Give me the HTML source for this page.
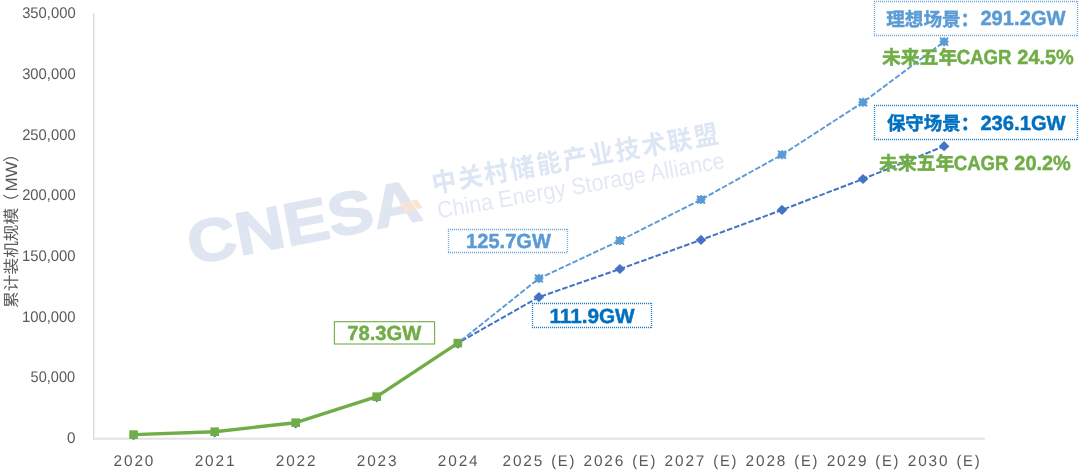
<!DOCTYPE html>
<html lang="zh"><head><meta charset="utf-8"><title>CNESA</title>
<style>
html,body{margin:0;padding:0;background:#fff;}
body{width:1080px;height:474px;overflow:hidden;}
svg{display:block;}
text{font-family:"Liberation Sans","Noto Sans CJK SC",sans-serif;text-rendering:geometricPrecision;}
</style></head><body>
<svg width="1080" height="474" viewBox="0 0 1080 474">
<rect width="1080" height="474" fill="#fff"/>

<g transform="translate(194.5 264.3) rotate(-11) scale(1.127 1)">
<text x="-2.48" y="0" font-size="60" font-weight="bold" fill="#dfe6f2" stroke="#dfe6f2" stroke-width="1.6" stroke-linejoin="round">CNESA</text>
</g>
<g transform="translate(435.4 192.7) rotate(-10) scale(1 1.06)">
<text x="-2" y="0" font-size="24.5" font-weight="bold" fill="#dde6f4" letter-spacing="2.12">中关村储能产业技术联盟</text>
</g>
<g transform="translate(439.7 218.4) rotate(-10) scale(0.954 1.04)">
<text x="-1" y="0" font-size="22.5" fill="#e2e9f5">China Energy Storage Alliance</text>
</g>
<g fill="#fbe4cf">
<path d="M399.3 203.0L404.4 201.9L410.2 210.7L405.2 211.8Z"/>
<path d="M405.5 201.7L410.6 200.7L416.4 209.4L411.3 210.5Z"/>
<path d="M411.7 200.5L416.8 199.5L422.6 208.1L417.5 209.2Z"/>
</g>

<rect x="93.05" y="13.1" width="1.4" height="426.6" fill="#dcdcdc"/>
<rect x="93.1" y="437.7" width="891.8" height="2.0" fill="#e2e2e2"/>
<text transform="translate(17.00 308.01) rotate(-90) scale(1.0325 1)" style="font-size:16.2px" fill="#595959">累计装机规模</text>
<text transform="translate(17.00 210.00) rotate(-90)" style="font-size:16.2px" fill="#595959">（</text>
<text transform="translate(17.00 191.53) rotate(-90) scale(1.0346 1)" style="font-size:16.4px" fill="#595959">MW</text>
<text transform="translate(17.00 161.95) rotate(-90)" style="font-size:16.2px" fill="#595959">）</text>
<polyline points="457.8,343.1 538.9,297.1 619.9,269.0 701.0,239.9 782.0,209.9 863.0,179.0 944.1,146.2" fill="none" stroke="#4472c4" stroke-width="2" stroke-dasharray="5.6 2" stroke-dashoffset="3.6"/>
<path d="M538.9 292.0l5.3 5.1l-5.3 5.1l-5.3 -5.1z" fill="#4472c4"/>
<path d="M619.9 263.9l5.3 5.1l-5.3 5.1l-5.3 -5.1z" fill="#4472c4"/>
<path d="M701.0 234.8l5.3 5.1l-5.3 5.1l-5.3 -5.1z" fill="#4472c4"/>
<path d="M782.0 204.8l5.3 5.1l-5.3 5.1l-5.3 -5.1z" fill="#4472c4"/>
<path d="M863.0 173.9l5.3 5.1l-5.3 5.1l-5.3 -5.1z" fill="#4472c4"/>
<path d="M944.1 141.1l5.3 5.1l-5.3 5.1l-5.3 -5.1z" fill="#4472c4"/>
<polyline points="457.8,343.1 538.9,278.5 619.9,240.6 701.0,199.6 782.0,154.7 863.0,102.3 944.1,41.7" fill="none" stroke="#5b9bd5" stroke-width="1.9" stroke-dasharray="5.6 2" stroke-dashoffset="3.6"/>
<g transform="translate(538.9 278.5)" stroke="#5b9bd5" stroke-width="1.7"><rect x="-3.6" y="-3.6" width="7.2" height="7.2" fill="#5b9bd5" stroke="none"/><path d="M-4 -4L4 4M-4 4L4 -4M0 -4.5V4.5M-4.5 0H4.5"/></g>
<g transform="translate(619.9 240.6)" stroke="#5b9bd5" stroke-width="1.7"><rect x="-3.6" y="-3.6" width="7.2" height="7.2" fill="#5b9bd5" stroke="none"/><path d="M-4 -4L4 4M-4 4L4 -4M0 -4.5V4.5M-4.5 0H4.5"/></g>
<g transform="translate(701.0 199.6)" stroke="#5b9bd5" stroke-width="1.7"><rect x="-3.6" y="-3.6" width="7.2" height="7.2" fill="#5b9bd5" stroke="none"/><path d="M-4 -4L4 4M-4 4L4 -4M0 -4.5V4.5M-4.5 0H4.5"/></g>
<g transform="translate(782.0 154.7)" stroke="#5b9bd5" stroke-width="1.7"><rect x="-3.6" y="-3.6" width="7.2" height="7.2" fill="#5b9bd5" stroke="none"/><path d="M-4 -4L4 4M-4 4L4 -4M0 -4.5V4.5M-4.5 0H4.5"/></g>
<g transform="translate(863.0 102.3)" stroke="#5b9bd5" stroke-width="1.7"><rect x="-3.6" y="-3.6" width="7.2" height="7.2" fill="#5b9bd5" stroke="none"/><path d="M-4 -4L4 4M-4 4L4 -4M0 -4.5V4.5M-4.5 0H4.5"/></g>
<g transform="translate(944.1 41.7)" stroke="#5b9bd5" stroke-width="1.7"><rect x="-3.6" y="-3.6" width="7.2" height="7.2" fill="#5b9bd5" stroke="none"/><path d="M-4 -4L4 4M-4 4L4 -4M0 -4.5V4.5M-4.5 0H4.5"/></g>
<path d="M133.6 431.3l4.5 4.5l-4.5 4.5l-4.5 -4.5z" fill="#4472c4"/>
<path d="M214.7 428.4l4.5 4.5l-4.5 4.5l-4.5 -4.5z" fill="#4472c4"/>
<path d="M295.7 419.4l4.5 4.5l-4.5 4.5l-4.5 -4.5z" fill="#4472c4"/>
<path d="M376.8 393.4l4.5 4.5l-4.5 4.5l-4.5 -4.5z" fill="#4472c4"/>
<path d="M457.8 339.8l4.5 4.5l-4.5 4.5l-4.5 -4.5z" fill="#4472c4"/>
<polyline points="133.6,434.6 214.7,431.7 295.7,422.7 376.8,396.7 457.8,343.1" fill="none" stroke="#70ad47" stroke-width="3.4" stroke-linejoin="round"/>
<rect x="129.3" y="430.3" width="8.6" height="8.6" fill="#70ad47"/>
<rect x="210.4" y="427.4" width="8.6" height="8.6" fill="#70ad47"/>
<rect x="291.4" y="418.4" width="8.6" height="8.6" fill="#70ad47"/>
<rect x="372.4" y="392.4" width="8.6" height="8.6" fill="#70ad47"/>
<rect x="453.5" y="338.8" width="8.6" height="8.6" fill="#70ad47"/>
<rect x="334.4" y="321.7" width="100.2" height="22.3" fill="#fff" stroke="#70ad47" stroke-width="1.1"/>
<rect x="448.5" y="229.5" width="119.0" height="23.0" fill="#fff"/><path d="M448 229.5H568 M448 252.5H568 M448.5 229V253 M567.5 229V253" fill="none" stroke="#5b9bd5" stroke-width="1.3" stroke-opacity="0.88" stroke-dasharray="1.1 0.9"/>
<rect x="532.5" y="303.5" width="119.0" height="24.0" fill="#fff"/><path d="M532 303.5H652 M532 327.5H652 M532.5 303V328 M651.5 303V328" fill="none" stroke="#0070c0" stroke-width="1.3" stroke-opacity="0.88" stroke-dasharray="1.1 0.9"/>
<rect x="874.5" y="1.5" width="203.0" height="34.0" fill="#fff"/><path d="M874 1.5H1078 M874 35.5H1078 M874.5 1V36 M1077.5 1V36" fill="none" stroke="#5b9bd5" stroke-width="1.3" stroke-opacity="0.88" stroke-dasharray="1.1 0.9"/>
<rect x="874.5" y="105.5" width="203.0" height="34.0" fill="#fff"/><path d="M874 105.5H1078 M874 139.5H1078 M874.5 105V140 M1077.5 105V140" fill="none" stroke="#0070c0" stroke-width="1.3" stroke-opacity="0.88" stroke-dasharray="1.1 0.9"/>
<text transform="translate(67.08 442.90) scale(0.9902 1)" style="font-size:15.4px;" fill="#595959">0</text>
<text transform="translate(30.55 382.23) scale(0.9458 1)" style="font-size:15.4px;" fill="#595959">50,000</text>
<text transform="translate(21.94 321.56) scale(0.9648 1)" style="font-size:15.4px;" fill="#595959">100,000</text>
<text transform="translate(21.94 260.89) scale(0.9648 1)" style="font-size:15.4px;" fill="#595959">150,000</text>
<text transform="translate(22.15 200.22) scale(0.9609 1)" style="font-size:15.4px;" fill="#595959">200,000</text>
<text transform="translate(22.15 139.55) scale(0.9609 1)" style="font-size:15.4px;" fill="#595959">250,000</text>
<text transform="translate(22.15 78.88) scale(0.9609 1)" style="font-size:15.4px;" fill="#595959">300,000</text>
<text transform="translate(22.15 18.21) scale(0.9609 1)" style="font-size:15.4px;" fill="#595959">350,000</text>
<text x="113.62" y="466.10" style="font-size:15.4px;letter-spacing:1.85px;" fill="#595959">2020</text>
<text x="194.67" y="466.10" style="font-size:15.4px;letter-spacing:1.85px;" fill="#595959">2021</text>
<text x="275.72" y="466.10" style="font-size:15.4px;letter-spacing:1.85px;" fill="#595959">2022</text>
<text x="356.77" y="466.10" style="font-size:15.4px;letter-spacing:1.85px;" fill="#595959">2023</text>
<text x="437.82" y="466.10" style="font-size:15.4px;letter-spacing:1.85px;" fill="#595959">2024</text>
<text x="502.47" y="466.10" style="font-size:15.4px;letter-spacing:1.85px;" fill="#595959">2025</text>
<text transform="translate(551.15 466.10) scale(0.9552 1)" style="font-size:15.4px;letter-spacing:1.85px;" fill="#595959">(E)</text>
<text x="583.52" y="466.10" style="font-size:15.4px;letter-spacing:1.85px;" fill="#595959">2026</text>
<text transform="translate(632.20 466.10) scale(0.9552 1)" style="font-size:15.4px;letter-spacing:1.85px;" fill="#595959">(E)</text>
<text x="664.57" y="466.10" style="font-size:15.4px;letter-spacing:1.85px;" fill="#595959">2027</text>
<text transform="translate(713.25 466.10) scale(0.9552 1)" style="font-size:15.4px;letter-spacing:1.85px;" fill="#595959">(E)</text>
<text x="745.62" y="466.10" style="font-size:15.4px;letter-spacing:1.85px;" fill="#595959">2028</text>
<text transform="translate(794.30 466.10) scale(0.9552 1)" style="font-size:15.4px;letter-spacing:1.85px;" fill="#595959">(E)</text>
<text x="826.67" y="466.10" style="font-size:15.4px;letter-spacing:1.85px;" fill="#595959">2029</text>
<text transform="translate(875.35 466.10) scale(0.9552 1)" style="font-size:15.4px;letter-spacing:1.85px;" fill="#595959">(E)</text>
<text x="907.72" y="466.10" style="font-size:15.4px;letter-spacing:1.85px;" fill="#595959">2030</text>
<text transform="translate(956.40 466.10) scale(0.9552 1)" style="font-size:15.4px;letter-spacing:1.85px;" fill="#595959">(E)</text>
<text transform="translate(347.23 340.10) scale(0.9902 1)" style="font-size:20.4px;font-weight:bold;stroke:#70ad47;stroke-width:0.45;" fill="#70ad47">78.3GW</text>
<text transform="translate(466.12 248.00) scale(0.9837 1)" style="font-size:20.4px;font-weight:bold;stroke:#5b9bd5;stroke-width:0.45;" fill="#5b9bd5">125.7GW</text>
<text transform="translate(549.38 322.50) scale(1.0169 1)" style="font-size:20.4px;font-weight:bold;stroke:#0070c0;stroke-width:0.45;" fill="#0070c0">111.9GW</text>
<text transform="translate(886.28 25.70) scale(0.9892 1)" style="font-size:18.8px;font-weight:bold;stroke:#5b9bd5;stroke-width:0.45;" fill="#5b9bd5">理想场景：</text>
<text transform="translate(980.40 25.20) scale(0.9896 1)" style="font-size:20.4px;font-weight:bold;stroke:#5b9bd5;stroke-width:0.45;" fill="#5b9bd5">291.2GW</text>
<text transform="translate(886.90 130.40) scale(0.9817 1)" style="font-size:18.8px;font-weight:bold;stroke:#0070c0;stroke-width:0.45;" fill="#0070c0">保守场景：</text>
<text transform="translate(980.40 129.90) scale(0.9896 1)" style="font-size:20.4px;font-weight:bold;stroke:#0070c0;stroke-width:0.45;" fill="#0070c0">236.1GW</text>
<text transform="translate(881.90 63.50) scale(1.0057 1)" style="font-size:18.8px;font-weight:bold;stroke:#70ad47;stroke-width:0.45;" fill="#70ad47">未来五年</text>
<text transform="translate(956.67 63.50) scale(0.9141 1)" style="font-size:20.4px;font-weight:bold;stroke:#70ad47;stroke-width:0.45;" fill="#70ad47">CAGR</text>
<text transform="translate(1017.31 63.50) scale(0.9771 1)" style="font-size:20.4px;font-weight:bold;stroke:#70ad47;stroke-width:0.45;" fill="#70ad47">24.5%</text>
<text transform="translate(878.90 169.80) scale(1.0057 1)" style="font-size:18.8px;font-weight:bold;stroke:#70ad47;stroke-width:0.45;" fill="#70ad47">未来五年</text>
<text transform="translate(953.67 169.80) scale(0.9141 1)" style="font-size:20.4px;font-weight:bold;stroke:#70ad47;stroke-width:0.45;" fill="#70ad47">CAGR</text>
<text transform="translate(1014.31 169.80) scale(0.9771 1)" style="font-size:20.4px;font-weight:bold;stroke:#70ad47;stroke-width:0.45;" fill="#70ad47">20.2%</text>
</svg></body></html>
